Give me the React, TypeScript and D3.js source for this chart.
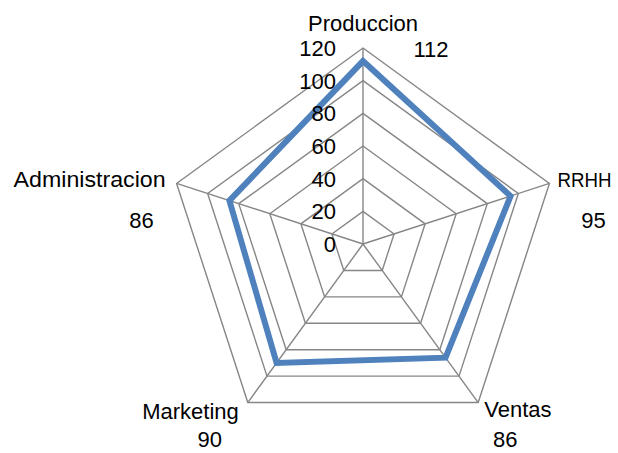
import React from "react";
import * as d3 from "d3";

const categories = ["Produccion", "RRHH", "Ventas", "Marketing", "Administracion"];
const values = [112, 95, 86, 90, 86];
const tickValues = [0, 20, 40, 60, 80, 100, 120];

const W = 618;
const H = 453;
const cx = 363;
const cy = 244;
const R = 196;
const FONT = "'Liberation Sans', Arial, sans-serif";
const FS = 22;

// label placement relative to each outer vertex: [dx, dy(baseline), anchor, fitWidth, fontSize]
const catOffsets: [number, number, string, number | null, number][] = [
  [0, -17, "middle", null, FS],
  [8, 3.6, "start", 54, 20],
  [6, 14.4, "start", null, FS],
  [-9, 16.4, "end", null, FS],
  [-11, 3.6, "end", 152, FS],
];
const valOffsets: [number, number, string][] = [
  [68, 9, "middle"],
  [44, 44.6, "middle"],
  [27, 44.4, "middle"],
  [-38, 44.4, "middle"],
  [-35, 44.6, "middle"],
];

export default function App() {
  const r = d3.scaleLinear().domain([0, 120]).range([0, R]);
  const angle = d3
    .scaleLinear()
    .domain([0, categories.length])
    .range([0, 2 * Math.PI]);
  const pt = (i: number, v: number): [number, number] => {
    const a = angle(i);
    return [cx + r(v) * Math.sin(a), cy - r(v) * Math.cos(a)];
  };
  const closed = d3.line().curve(d3.curveLinearClosed);

  const rings = tickValues.filter((t) => t > 0);

  return (
    <svg width={W} height={H} style={{ position: "absolute", left: 0, top: 0 }}>
      <rect width={W} height={H} fill="#fff" />
      {rings.map((t) => (
        <path
          key={t}
          d={closed(categories.map((_, i) => pt(i, t))) || ""}
          fill="none"
          stroke="#868686"
          strokeWidth={1.4}
        />
      ))}
      {categories.map((c, i) => {
        const [x, y] = pt(i, 120);
        return <line key={c} x1={cx} y1={cy} x2={x} y2={y} stroke="#868686" strokeWidth={1.4} />;
      })}
      <path
        d={closed(values.map((v, i) => pt(i, v))) || ""}
        fill="none"
        stroke="#4F81BD"
        strokeWidth={6}
        strokeLinejoin="miter"
      />
      {tickValues.map((t) => (
        <text
          key={t}
          x={cx - 27}
          y={cy - r(t)}
          dy="0.36em"
          textAnchor="end"
          fontFamily={FONT}
          fontSize={FS}
          fill="#000"
        >
          {t}
        </text>
      ))}
      {categories.map((c, i) => {
        const [x, y] = pt(i, 120);
        const o = catOffsets[i];
        const fit = o[3];
        return (
          <text
            key={c}
            x={x + o[0]}
            y={y + o[1]}
            textAnchor={o[2] as any}
            fontFamily={FONT}
            fontSize={o[4]}
            fill="#000"
            {...(fit ? { textLength: fit, lengthAdjust: "spacingAndGlyphs" } : {})}
          >
            {c}
          </text>
        );
      })}
      {values.map((v, i) => {
        const [x, y] = pt(i, 120);
        const o = valOffsets[i];
        return (
          <text
            key={i}
            x={x + o[0]}
            y={y + o[1]}
            textAnchor={o[2] as any}
            fontFamily={FONT}
            fontSize={FS}
            fill="#000"
          >
            {v}
          </text>
        );
      })}
    </svg>
  );
}
